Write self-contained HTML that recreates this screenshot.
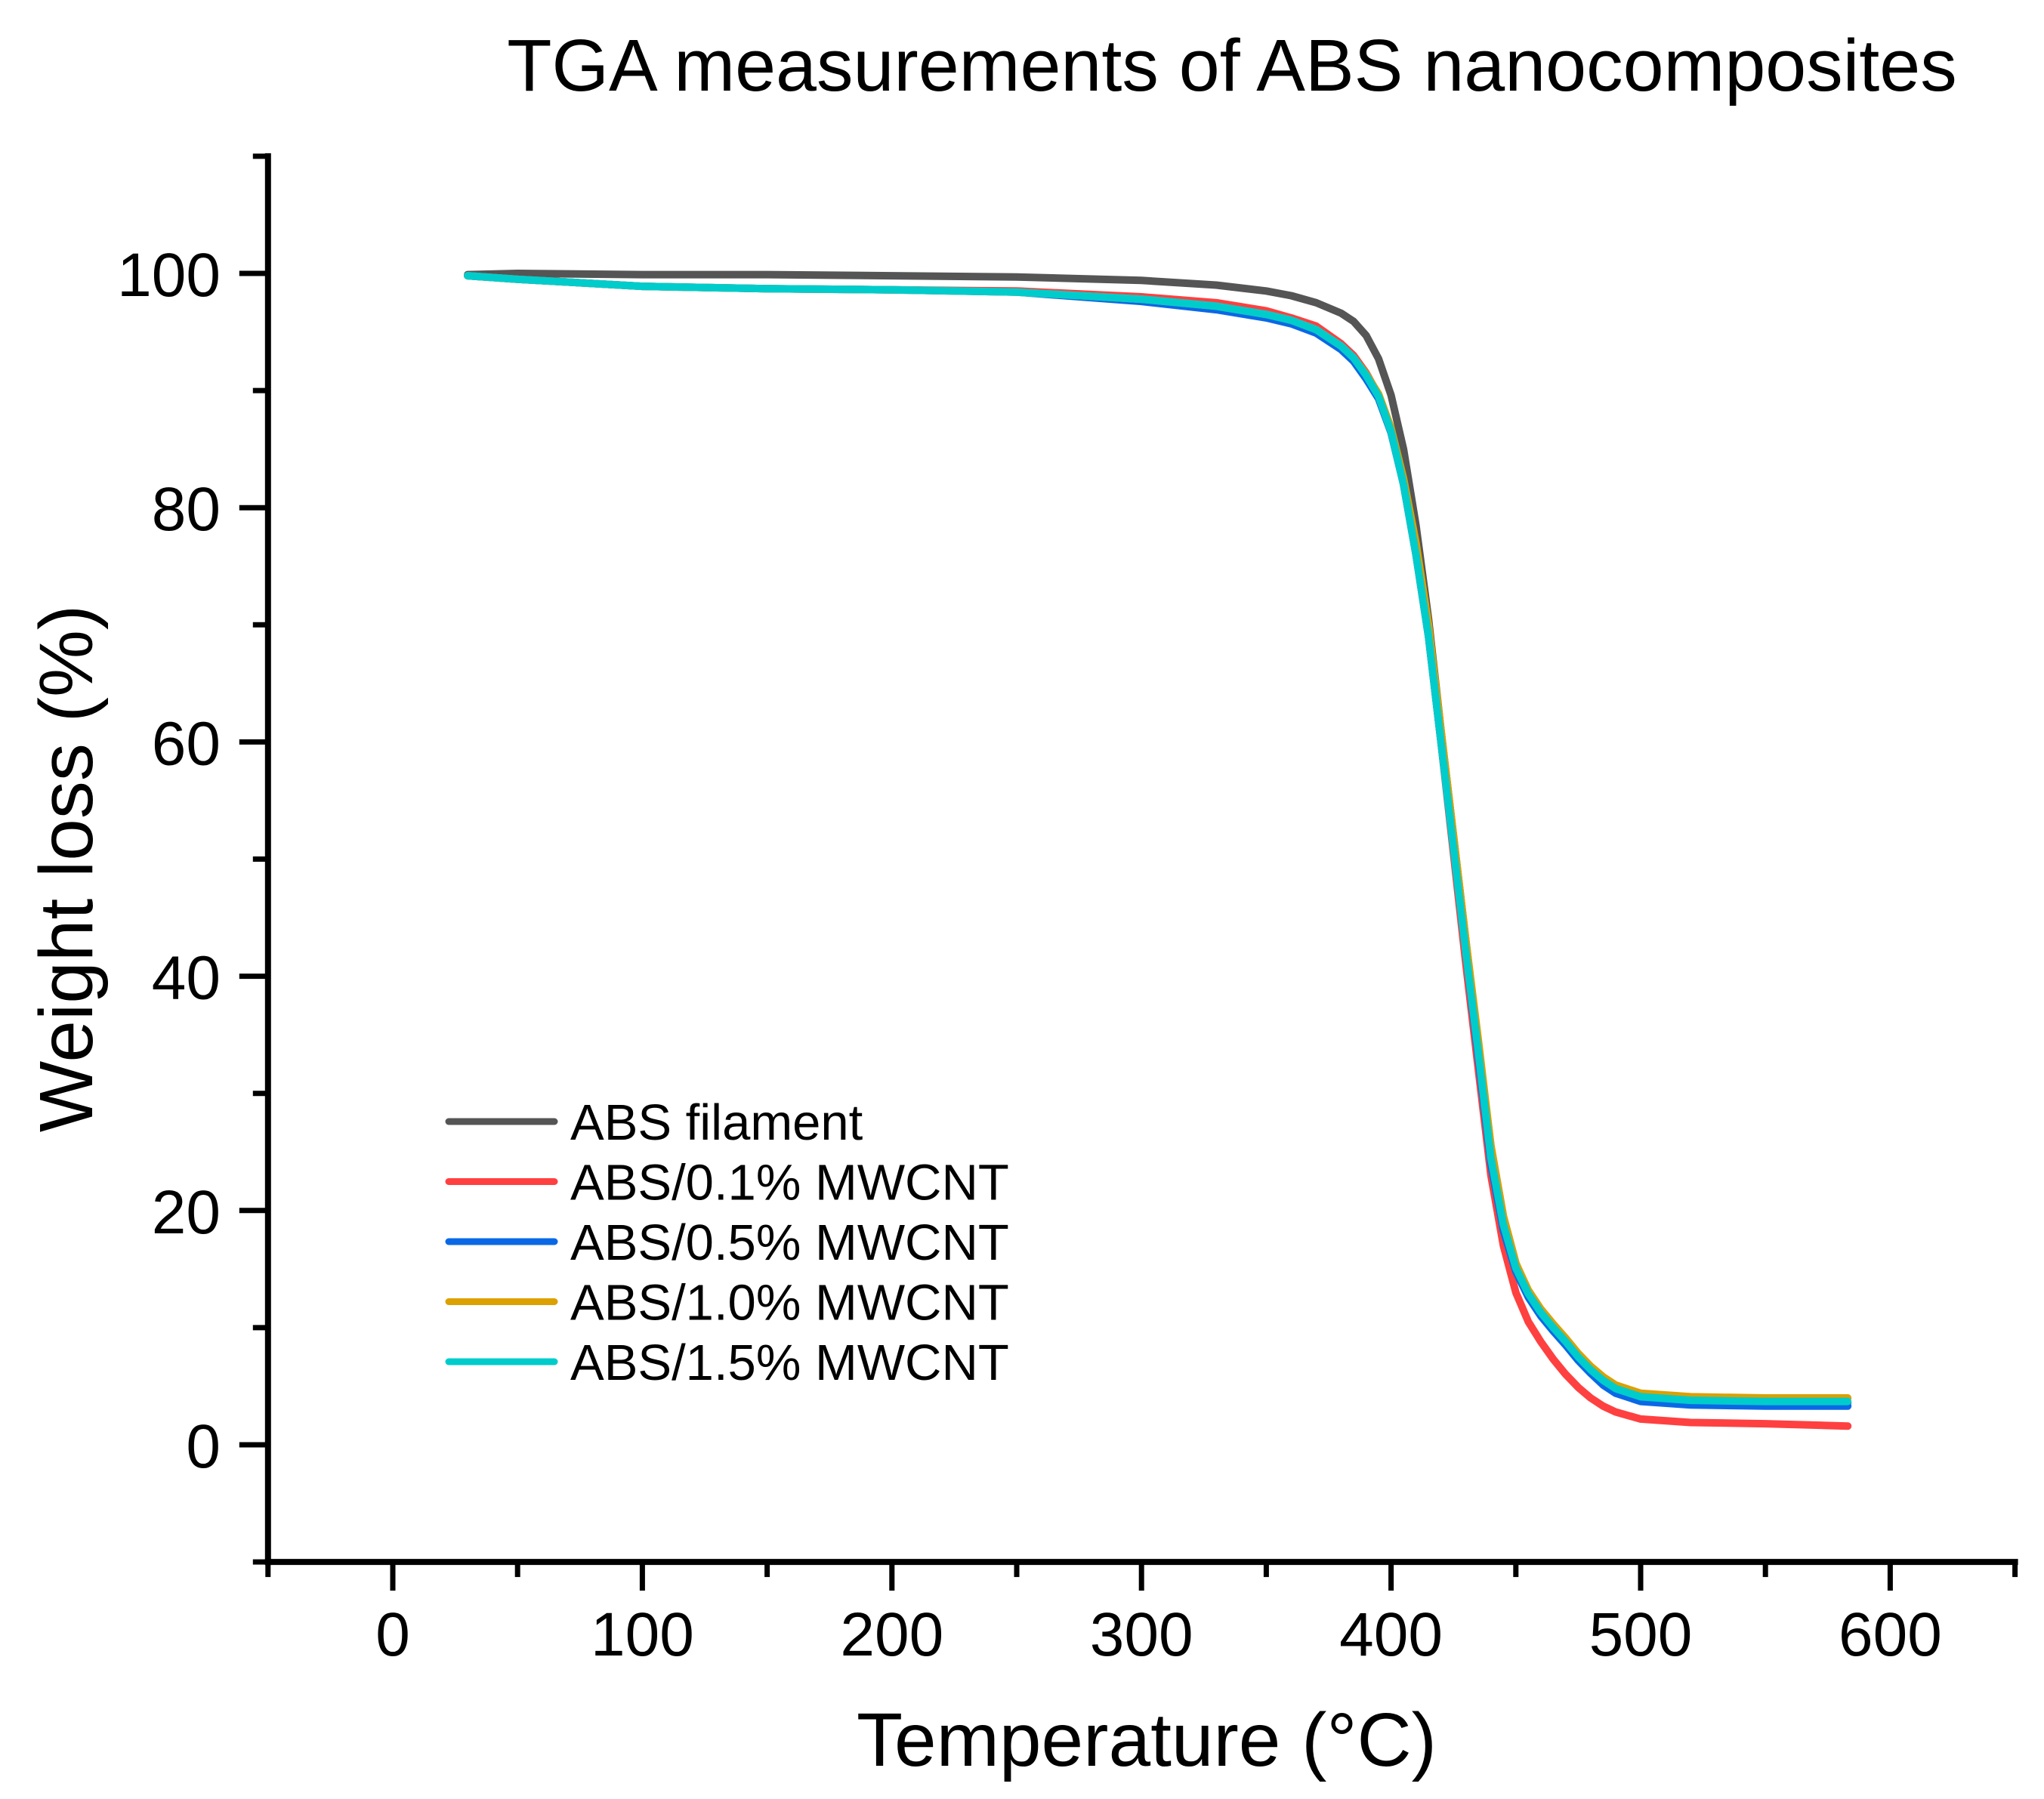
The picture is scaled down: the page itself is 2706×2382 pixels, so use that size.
<!DOCTYPE html>
<html><head><meta charset="utf-8"><style>
html,body{margin:0;padding:0;background:#fff;}
svg{display:block;font-family:"Liberation Sans",Arial,sans-serif;}
</style></head><body>
<svg id="chart" width="2706" height="2382" viewBox="0 0 2706 2382" xmlns="http://www.w3.org/2000/svg">
<text x="1631" y="120" font-size="97" text-anchor="middle">TGA measurements of ABS nanocomposites</text>
<g id="axes"></g>
<g id="series"></g>
<g id="legend"></g>
<text x="1518" y="2338" font-size="100" text-anchor="middle">Temperature (°C)</text>
<text transform="translate(122,1150) rotate(-90)" font-size="100" text-anchor="middle">Weight loss (%)</text>
</svg>
<script>
const temps = [30,50,100,150,200,250,300,330,350,360,370,380,385,390,395,400,405,410,415,420,425,430,435,440,445,450,455,460,465,470,475,480,485,490,500,520,550,583];
const filament = [99.9,100,99.9,99.9,99.8,99.7,99.4,99.0,98.5,98.1,97.5,96.6,95.9,94.7,92.7,89.6,85,78.5,70.5,61,52,43,34,25.5,19.5,15.5,13,11.3,10,8.8,7.5,6.4,5.5,4.8,4.1,3.8,3.7,3.6];
const mw01 = [99.8,99.5,98.9,98.7,98.6,98.5,98.0,97.5,96.8,96.2,95.5,94.0,93.0,91.5,89.6,86.6,82,76,69,60,50.5,41,32,23,17,13,10.5,8.8,7.3,6,4.9,4,3.3,2.8,2.2,1.9,1.8,1.6];
const mw05 = [99.8,99.5,98.9,98.7,98.6,98.4,97.6,96.9,96.2,95.7,94.9,93.5,92.5,91.0,89.3,86.4,82,76,69,60,51,42,33,24,18.3,14.8,12.6,11,9.7,8.5,7.2,6.1,5.1,4.4,3.7,3.4,3.3,3.3];
const mw10 = [99.8,99.5,98.9,98.7,98.6,98.4,97.8,97.2,96.5,96.0,95.2,93.8,92.8,91.4,89.7,86.8,82.5,77,70,61,52,43,34.5,25.5,19.5,15.5,13.2,11.6,10.3,9.1,7.8,6.7,5.8,5.1,4.4,4.1,4.0,4.0];
const mw15 = [99.8,99.5,98.9,98.7,98.6,98.4,97.8,97.2,96.5,96.0,95.2,93.8,92.8,91.3,89.5,86.5,82,76,69,60,51,42,33.5,24.5,18.8,15.1,12.9,11.3,10,8.8,7.5,6.4,5.5,4.8,4.1,3.8,3.7,3.7];
const seriesNames = ["ABS filament","ABS/0.1% MWCNT","ABS/0.5% MWCNT","ABS/1.0% MWCNT","ABS/1.5% MWCNT"];
const seriesValues = [filament, mw01, mw05, mw10, mw15];
const seriesColors = ["#555555","#ff4040","#0a68e6","#dca000","#00cccc"];
const xTicks = [0,100,200,300,400,500,600];
const yTicks = [0,20,40,60,80,100];

const X0=520, XS=3.304, Y0=1913, YS=15.51;
function sx(v){return X0+v*XS;}
function sy(v){return Y0-v*YS;}
const NS="http://www.w3.org/2000/svg";
function mk(tag,attrs,parent){const e=document.createElementNS(NS,tag);for(const k in attrs)e.setAttribute(k,attrs[k]);parent.appendChild(e);return e;}

const axes=document.getElementById('axes');
const xl=sx(-50), xr=sx(650), yb=sy(-10), yt=sy(110);
let e;
e=mk('line',{x1:xl,y1:yb,x2:xr,y2:yb,stroke:'#000','stroke-width':8,'stroke-linecap':'square'},axes);


e=mk('line',{x1:xl,y1:yb,x2:xl,y2:yt,stroke:'#000','stroke-width':8,'stroke-linecap':'square'},axes);


for(let v=-50;v<=650;v+=50){
  const major=(v%100===0);
  e=mk('line',{x1:sx(v),y1:yb,x2:sx(v),y2:yb+(major?38:20),stroke:'#000','stroke-width':7},axes);
  
  
}
xTicks.forEach(v=>{
  const t=mk('text',{x:sx(v),y:2192,'font-size':82,'text-anchor':'middle'},axes);
  t.textContent=String(v);
  
  
});
for(let v=-10;v<=110;v+=10){
  const major=(v%20===0);
  e=mk('line',{x1:xl,y1:sy(v),x2:xl-(major?38:20),y2:sy(v),stroke:'#000','stroke-width':7},axes);
  
  
}
yTicks.forEach(v=>{
  const t=mk('text',{x:292,y:sy(v)+30,'font-size':82,'text-anchor':'end'},axes);
  t.textContent=String(v);
  
  
});

const sg=document.getElementById('series');
seriesValues.forEach((vals,i)=>{
  const d=temps.map((t,j)=>(j?'L':'M')+sx(t).toFixed(1)+','+sy(vals[j]).toFixed(1)).join(' ');
  const p=mk('path',{d:d,fill:'none',stroke:seriesColors[i],'stroke-width':10,'stroke-linejoin':'round','stroke-linecap':'round'},sg);
  
  
});

const lg=document.getElementById('legend');
seriesNames.forEach((n,i)=>{
  const y=1485+i*79.5;
  const l=mk('line',{x1:594,y1:y,x2:734,y2:y,stroke:seriesColors[i],'stroke-width':9,'stroke-linecap':'round'},lg);
  
  
  const t=mk('text',{x:755,y:y+24,'font-size':67},lg);
  t.textContent=n;
  
  
});
</script>
</body></html>
